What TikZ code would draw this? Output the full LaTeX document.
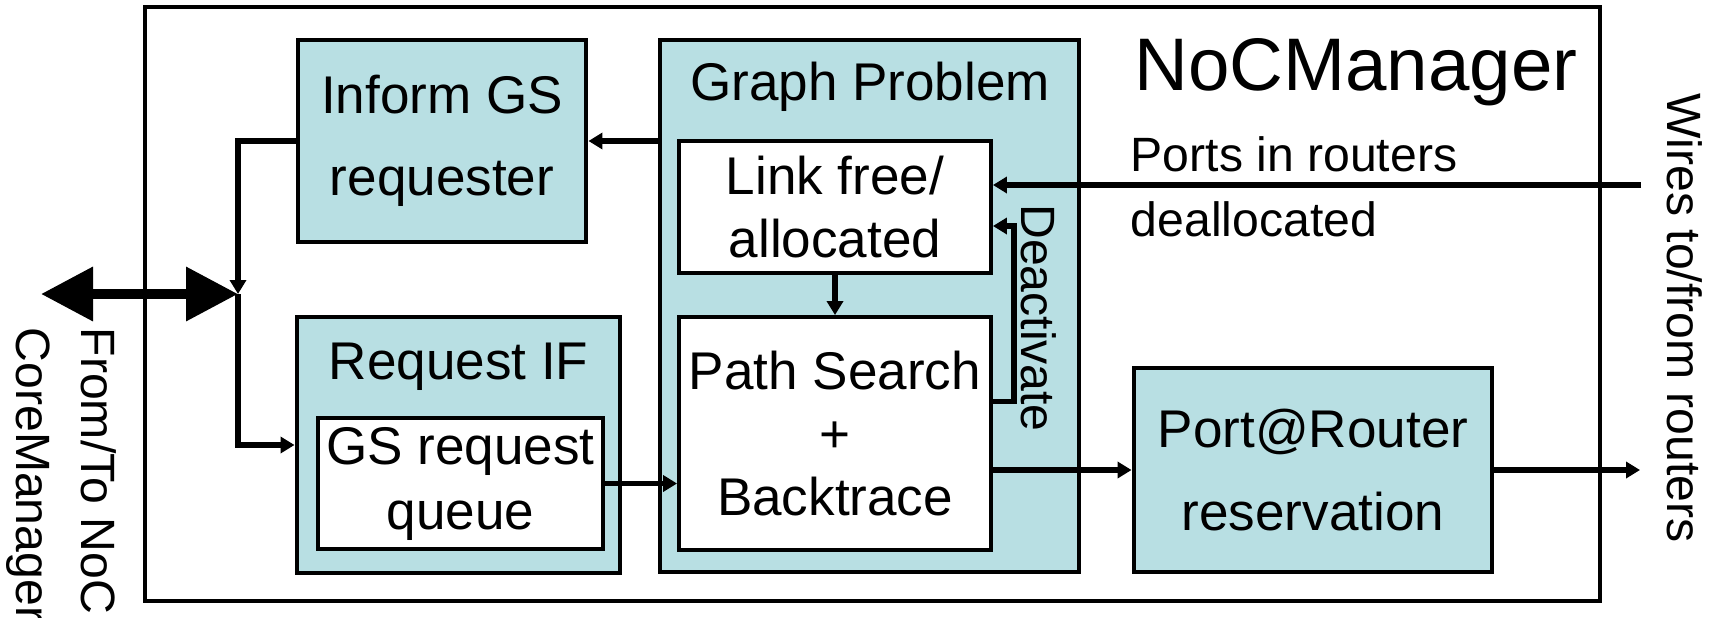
\documentclass[tikz,border=0pt]{standalone}
\usepackage{fontspec}
\setmainfont{Liberation Sans}
\usetikzlibrary{arrows.meta}
\definecolor{blkfill}{HTML}{B8DFE3}

\begin{document}
\begin{tikzpicture}[
  blk/.style={draw,line width=1.4pt,fill=blkfill,inner sep=0pt,align=center,
    font=\fontsize{15.1}{23.5}\selectfont},
  sub/.style={draw,line width=1.1pt,fill=white,inner sep=0pt,align=center,
    font=\fontsize{15.1}{18}\selectfont},
  txt/.style={inner sep=0pt,font=\fontsize{15.1}{18}\selectfont},
  side/.style={inner sep=0pt,font=\fontsize{13.7}{18.5}\selectfont},
  wire/.style={line width=1.5pt,-{Triangle[length=1.4mm,width=1.6mm]}},
  bus/.style={line width=1mm,
    {Triangle[length=5.2mm,width=5.2mm]}-{Triangle[length=5.2mm,width=5.2mm]}}
]
  \useasboundingbox (0,0) rectangle (17.13,6.17);
  % 外框
  \node[draw,line width=1.1pt,minimum width=14.55cm,minimum height=5.94cm]
    (mgr) at (8.725,3.13) {};
  \node[txt,font=\fontsize{21.2}{25}\selectfont,anchor=base]
    (mgrname) at (13.56,5.27) {NoCManager};

  \node[blk,minimum width=2.88cm,minimum height=2.02cm]
    (inform) at (4.42,4.76) {Inform GS\\requester};
  \node[blk,minimum width=4.19cm,minimum height=5.32cm] (graph) at (8.695,3.11) {};
  \node[txt,anchor=base] (graphname) at (8.70,5.17) {Graph Problem};
  \node[sub,minimum width=3.12cm,minimum height=1.32cm]
    (link) at (8.35,4.10) {Link free/\\allocated};
  \node[sub,minimum width=3.12cm,minimum height=2.33cm]
    (path) at (8.35,1.835) {Path Search\\+\\Backtrace};
  \node[blk,minimum width=3.23cm,minimum height=2.56cm] (reqif) at (4.585,1.72) {};
  \node[txt,anchor=base] (reqifname) at (4.585,2.38) {Request IF};
  \node[sub,font=\fontsize{15.1}{18.5}\selectfont,minimum width=2.85cm,minimum height=1.31cm]
    (queue) at (4.605,1.335) {GS request\\queue};
  \node[blk,minimum width=3.58cm,minimum height=2.04cm]
    (port) at (13.13,1.47) {Port@Router\\reservation};

  % 旋转的文字
  \node[side,anchor=north west,align=left] (freed) at (11.30,4.81) {Ports in routers\\deallocated};
  \node[side,rotate=-90] (wires) at (16.85,2.99) {Wires to/from routers};
  \node[side,rotate=-90] (deact) at (10.39,2.99) {Deactivate};
  \node[side,rotate=-90,anchor=north west,align=left]
    (core) at (1.17,2.90) {From/To NoC\\CoreManager};

  \coordinate (jn) at (2.38,3.23);
  \coordinate (ext) at (0.41,3.23);
  \coordinate (rin) at (16.41,4.32);
  \coordinate (rout) at (16.40,1.47);

  \draw[bus] (ext) -- (jn);
  \draw[wire] (inform.east -| graph.west) -- (inform.east);
  \draw[wire] (inform.west) -| (jn);
  \draw[wire] (jn) |- (reqif.west);
  \draw[wire] (queue.east) -- (queue.east -| path.west);
  \draw[wire] (link.south) -- (path.north);
  \draw[wire] (rin) -- (rin -| link.east);
  \draw[wire] ([yshift=3.2mm]path.east) -- ++(2.1mm,0) |- ([yshift=-1.9mm]link.east);
  \draw[wire] (port.west -| path.east) -- (port.west);
  \draw[wire] (port.east) -- (rout);
\end{tikzpicture}
\end{document}
